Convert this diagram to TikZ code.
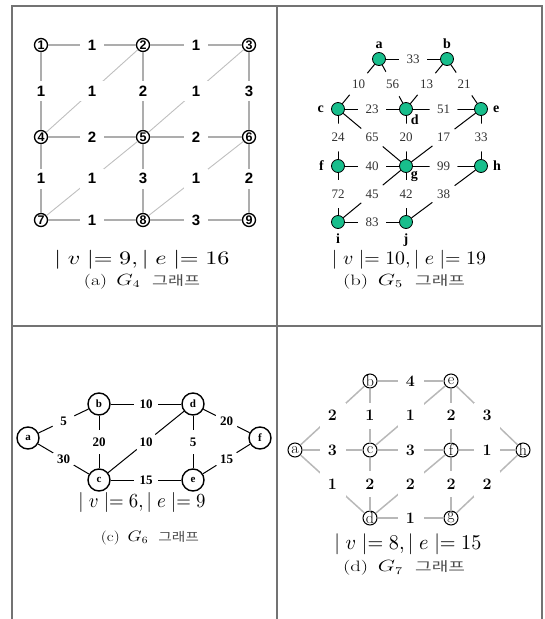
\documentclass[tikz,border=0pt]{standalone}
\usepackage{fontspec}
\usepackage{graphicx}
\newfontfamily\lsans{Liberation Sans}
\newfontfamily\lserif{Liberation Serif}
\newfontfamily\kr{Noto Sans CJK KR}
\definecolor{gfive}{RGB}{24,190,140}
\definecolor{framegray}{gray}{0.45}
\newcommand{\captA}[4]{\resizebox*{#1}{#2}{\fontsize{16}{16}\selectfont (#3)\ \,$G_{#4}$\ \ {\kr\fontsize{14}{14}\selectfont\color{black!70}그래프}}}
\tikzset{
  frameline/.style={draw=framegray, line width=1.5pt},
  g4node/.style={circle, draw, line width=1.3pt, minimum size=13pt, inner sep=0pt, fill=white, font=\lsans\bfseries\fontsize{12.5}{12.5}\selectfont},
  g4edge/.style={draw=black!32, line width=1.5pt},
  g4diag/.style={draw=black!25, line width=0.9pt},
  g4lab/.style={fill=white, minimum width=24pt, minimum height=20pt, inner sep=0pt, font=\lsans\bfseries\fontsize{15}{15}\selectfont},
  g5node/.style={circle, draw, line width=0.8pt, fill=gfive, minimum size=13pt, inner sep=0pt},
  g5name/.style={font=\lserif\bfseries\fontsize{14}{14}\selectfont, inner sep=1pt},
  g5edge/.style={draw=black, line width=1pt},
  g5lab/.style={circle, fill=white, minimum size=28pt, inner sep=0pt, text=black!80, font=\lserif\fontsize{13}{13}\selectfont},
  g6node/.style={circle, draw, line width=1.4pt, minimum size=22pt, inner sep=0pt, fill=white, font=\lserif\bfseries\fontsize{11}{11}\selectfont},
  g6edge/.style={draw=black, line width=1pt},
  g6lab/.style={circle, fill=white, minimum size=24pt, inner sep=0pt, font=\lserif\bfseries\fontsize{13}{13}\selectfont},
  g7node/.style={circle, draw, line width=1pt, minimum size=14pt, inner sep=0pt, fill=white, font=\fontsize{16}{16}\selectfont},
  g7edge/.style={draw=black!28, line width=1.5pt},
  g7lab/.style={fill=white, minimum size=26pt, inner sep=0pt, font=\bfseries\fontsize{16}{16}\selectfont},
  textline/.style={inner sep=0pt},
}
\begin{document}
\begin{tikzpicture}[x=1pt,y=-1pt]
\useasboundingbox (0,0) rectangle (545,619);
% frame
\draw[frameline] (12,619) -- (12,6) -- (542,6) -- (542,619);
\draw[frameline] (277,6) -- (277,619);
\draw[frameline] (12,326) -- (542,326);

% ---------------- (a) G4
\node[g4node] (p1) at (41,45) {1};
\node[g4node] (p2) at (143,45) {2};
\node[g4node] (p3) at (249,45) {3};
\node[g4node] (p4) at (41,137) {4};
\node[g4node] (p5) at (143,137) {5};
\node[g4node] (p6) at (249,137) {6};
\node[g4node] (p7) at (41,220) {7};
\node[g4node] (p8) at (143,220) {8};
\node[g4node] (p9) at (249,220) {9};
\draw[g4edge] (p1) -- node[g4lab]{1} (p2);
\draw[g4edge] (p2) -- node[g4lab]{1} (p3);
\draw[g4edge] (p4) -- node[g4lab]{2} (p5);
\draw[g4edge] (p5) -- node[g4lab]{2} (p6);
\draw[g4edge] (p7) -- node[g4lab]{1} (p8);
\draw[g4edge] (p8) -- node[g4lab]{3} (p9);
\draw[g4edge] (p1) -- node[g4lab]{1} (p4);
\draw[g4edge] (p2) -- node[g4lab]{2} (p5);
\draw[g4edge] (p3) -- node[g4lab]{3} (p6);
\draw[g4edge] (p4) -- node[g4lab]{1} (p7);
\draw[g4edge] (p5) -- node[g4lab]{3} (p8);
\draw[g4edge] (p6) -- node[g4lab]{2} (p9);
\draw[g4diag] (p4) -- node[g4lab]{1} (p2);
\draw[g4diag] (p5) -- node[g4lab]{1} (p3);
\draw[g4diag] (p7) -- node[g4lab]{1} (p5);
\draw[g4diag] (p8) -- node[g4lab]{1} (p6);
\node[textline] (ma) at (142,260) {\resizebox*{175pt}{19pt}{$\mid v\mid= 9, \mid e\mid= 16$}};
\node[textline] (ca) at (142,281.5) {\captA{116pt}{15pt}{a}{4}};

% ---------------- (b) G5
\node[g5node, label={[g5name, label distance=2pt]above:a}] (qa) at (379,59) {};
\node[g5node, label={[g5name, label distance=2pt]above:b}] (qb) at (447,59) {};
\node[g5node, label={[g5name, label distance=6pt]left:c}] (qc) at (338,109) {};
\node[g5node, label={[g5name, label distance=-1pt]-50:d}] (qd) at (406,109) {};
\node[g5node, label={[g5name, label distance=4pt]right:e}] (qe) at (481,109) {};
\node[g5node, label={[g5name, label distance=6pt]left:f}] (qf) at (338,166) {};
\node[g5node, label={[g5name, label distance=-1pt]-50:g}] (qg) at (406,166) {};
\node[g5node, label={[g5name, label distance=4pt]right:h}] (qh) at (481,166) {};
\node[g5node, label={[g5name, label distance=4pt]below:i}] (qi) at (338,222) {};
\node[g5node, label={[g5name, label distance=4pt]below:j}] (qj) at (406,222) {};
\draw[g5edge] (qa) -- node[g5lab]{33} (qb);
\draw[g5edge] (qa) -- node[g5lab]{10} (qc);
\draw[g5edge] (qa) -- node[g5lab]{56} (qd);
\draw[g5edge] (qb) -- node[g5lab]{13} (qd);
\draw[g5edge] (qb) -- node[g5lab]{21} (qe);
\draw[g5edge] (qc) -- node[g5lab]{23} (qd);
\draw[g5edge] (qd) -- node[g5lab]{51} (qe);
\draw[g5edge] (qc) -- node[g5lab]{24} (qf);
\draw[g5edge] (qc) -- node[g5lab]{65} (qg);
\draw[g5edge] (qd) -- node[g5lab]{20} (qg);
\draw[g5edge] (qe) -- node[g5lab]{17} (qg);
\draw[g5edge] (qe) -- node[g5lab]{33} (qh);
\draw[g5edge] (qf) -- node[g5lab]{40} (qg);
\draw[g5edge] (qg) -- node[g5lab]{99} (qh);
\draw[g5edge] (qf) -- node[g5lab]{72} (qi);
\draw[g5edge] (qg) -- node[g5lab]{45} (qi);
\draw[g5edge] (qg) -- node[g5lab]{42} (qj);
\draw[g5edge] (qh) -- node[g5lab]{38} (qj);
\draw[g5edge] (qi) -- node[g5lab]{83} (qj);
\node[textline] (mb) at (409,260) {\resizebox*{154pt}{19pt}{$\mid v\mid= 10, \mid e\mid= 19$}};
\node[textline] (cb) at (404,281.5) {\captA{122pt}{15pt}{b}{5}};

% ---------------- (c) G6
\node[g6node] (ra) at (28,438) {a};
\node[g6node] (rb) at (99,404) {b};
\node[g6node] (rc) at (99,480) {c};
\node[g6node] (rd) at (193,404) {d};
\node[g6node] (re) at (193,480) {e};
\node[g6node] (rf) at (260,438) {f};
\draw[g6edge] (ra) -- node[g6lab]{5} (rb);
\draw[g6edge] (ra) -- node[g6lab]{30} (rc);
\draw[g6edge] (rb) -- node[g6lab]{10} (rd);
\draw[g6edge] (rb) -- node[g6lab]{20} (rc);
\draw[g6edge] (rc) -- node[g6lab]{10} (rd);
\draw[g6edge] (rd) -- node[g6lab]{5} (re);
\draw[g6edge] (rc) -- node[g6lab]{15} (re);
\draw[g6edge] (rd) -- node[g6lab]{20} (rf);
\draw[g6edge] (re) -- node[g6lab]{15} (rf);
\node[textline] (mc) at (142,502) {\resizebox*{127pt}{20pt}{$\mid v\mid= 6, \mid e\mid= 9$}};
\node[textline] (cc) at (150,538) {\captA{98pt}{14pt}{c}{6}};

% ---------------- (d) G7
\node[g7node] (sa) at (295,450) {a};
\node[g7node] (sb) at (370,381) {b};
\node[g7node] (se) at (451,381) {e};
\node[g7node] (sc) at (370,450) {c};
\node[g7node] (sf) at (451,450) {f};
\node[g7node] (sh) at (523,450) {h};
\node[g7node] (sd) at (370,518) {d};
\node[g7node] (sg) at (451,518) {g};
\draw[g7edge] (sa) -- node[g7lab]{2} (sb);
\draw[g7edge] (sb) -- node[g7lab]{1} (sc);
\draw[g7edge] (sb) -- node[g7lab]{4} (se);
\draw[g7edge] (sc) -- node[g7lab]{1} (se);
\draw[g7edge] (se) -- node[g7lab]{2} (sf);
\draw[g7edge] (se) -- node[g7lab]{3} (sh);
\draw[g7edge] (sa) -- node[g7lab]{3} (sc);
\draw[g7edge] (sc) -- node[g7lab]{3} (sf);
\draw[g7edge] (sf) -- node[g7lab]{1} (sh);
\draw[g7edge] (sa) -- node[g7lab]{1} (sd);
\draw[g7edge] (sc) -- node[g7lab]{2} (sd);
\draw[g7edge] (sd) -- node[g7lab]{2} (sf);
\draw[g7edge] (sf) -- node[g7lab]{2} (sg);
\draw[g7edge] (sg) -- node[g7lab]{2} (sh);
\draw[g7edge] (sd) -- node[g7lab]{1} (sg);
\node[textline] (md) at (408,544) {\resizebox*{147pt}{21pt}{$\mid v\mid= 8, \mid e\mid= 15$}};
\node[textline] (cd) at (404,568) {\captA{122pt}{15pt}{d}{7}};
\end{tikzpicture}
\end{document}
